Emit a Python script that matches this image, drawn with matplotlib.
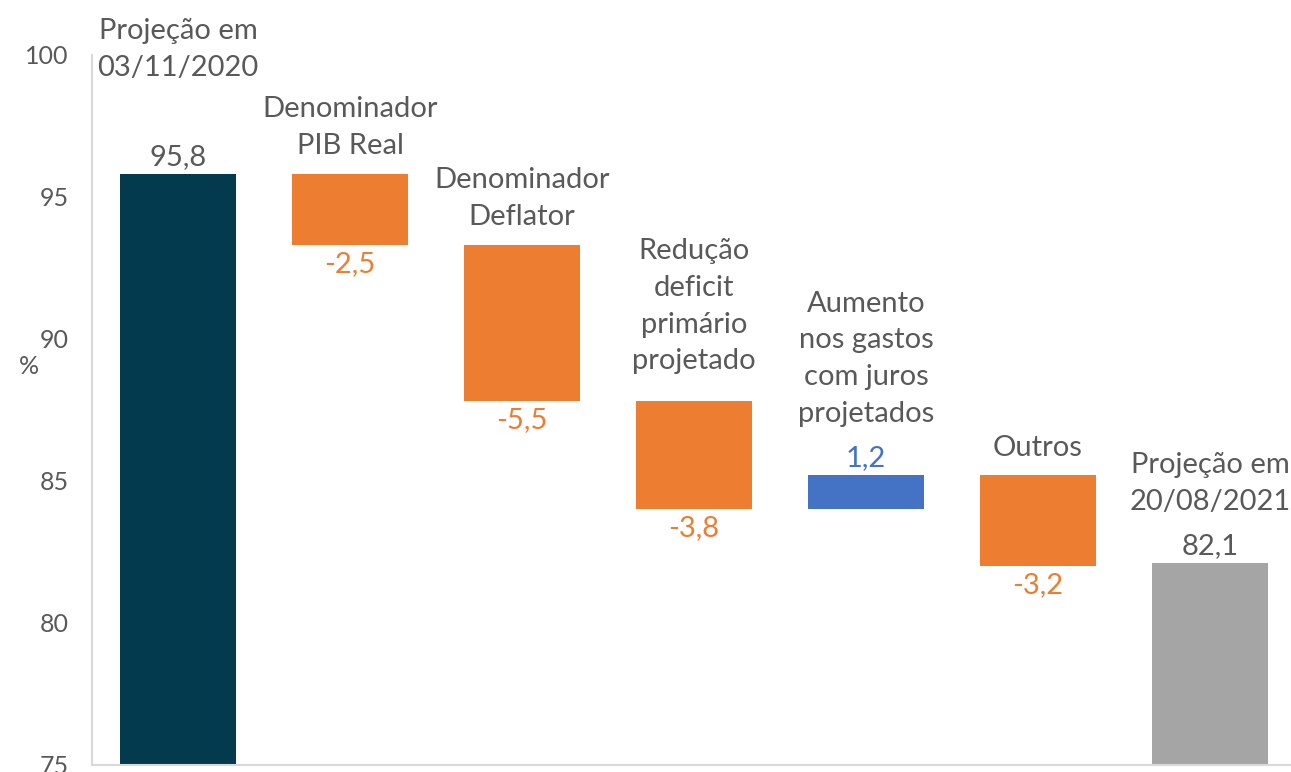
import matplotlib
matplotlib.use("Agg")
import matplotlib.pyplot as plt

# Waterfall: projected gross debt (% of GDP) between two projections
categories = [
    "Projeção em\n03/11/2020",
    "Denominador\nPIB Real",
    "Denominador\nDeflator",
    "Redução\ndeficit\nprimário\nprojetado",
    "Aumento\nnos gastos\ncom juros\nprojetados",
    "Outros",
    "Projeção em\n20/08/2021",
]
start_value = 95.8
changes = [-2.5, -5.5, -3.8, 1.2, -3.2]
end_value = 82.1

NAVY = "#033A4D"
ORANGE = "#ED7D31"
BLUE = "#4472C4"
GRAY = "#A5A5A5"
TEXT = "#595959"

plt.rcParams["font.family"] = ["Lato", "DejaVu Sans"]

fig = plt.figure(figsize=(12.91, 7.72), dpi=100)
ax = fig.add_axes([92 / 1291, 7 / 772, 1204 / 1291, 710 / 772])


def fmt(v):
    return f"{v:.1f}".replace(".", ",")


# bottoms / heights for every bar
bottoms, heights, colors, label_colors = [0], [start_value], [NAVY], [TEXT]
level = start_value
for c in changes:
    bottoms.append(min(level, level + c))
    heights.append(abs(c))
    colors.append(ORANGE if c < 0 else BLUE)
    label_colors.append(ORANGE if c < 0 else BLUE)
    level += c
bottoms.append(0)
heights.append(end_value)
colors.append(GRAY)
label_colors.append(TEXT)

values = [start_value] + changes + [end_value]
x = list(range(len(categories)))
ax.bar(x, heights, bottom=bottoms, width=0.67, color=colors, zorder=2)

fs = 21
# gap (px) between bar top and category label
cat_pad = [93, 15, 15, 27, 48, 14, 48]
for i, (v, b, h) in enumerate(zip(values, bottoms, heights)):
    top = b + h
    below = (0 < i < len(values) - 1) and v < 0
    if below:
        ax.annotate(fmt(v), (i, b), xytext=(0, -6), textcoords="offset pixels",
                    ha="center", va="top", fontsize=fs, color=label_colors[i],
                    annotation_clip=False)
    else:
        ax.annotate(fmt(v), (i, top), xytext=(0, 4), textcoords="offset pixels",
                    ha="center", va="bottom", fontsize=fs, color=label_colors[i],
                    annotation_clip=False)
    ax.annotate(categories[i], (i, top), xytext=(0, cat_pad[i]),
                textcoords="offset pixels", ha="center", va="bottom",
                fontsize=fs, color=TEXT, linespacing=1.52,
                annotation_clip=False)

ax.set_xlim(-0.5, 6.5)
ax.set_ylim(75, 100)
ax.set_yticks([75, 80, 85, 90, 95, 100])
ax.set_xticks([])
ax.tick_params(axis="y", length=0, pad=17, labelsize=18, labelcolor=TEXT)
ax.set_ylabel("%", rotation=0, fontsize=18, color=TEXT, labelpad=0)
ax.yaxis.set_label_coords(-0.052, 0.545)
for side in ("top", "right"):
    ax.spines[side].set_visible(False)
for side in ("left", "bottom"):
    ax.spines[side].set_color("#D9D9D9")
    ax.spines[side].set_linewidth(1.5)

fig.savefig("out.png", dpi=100)
